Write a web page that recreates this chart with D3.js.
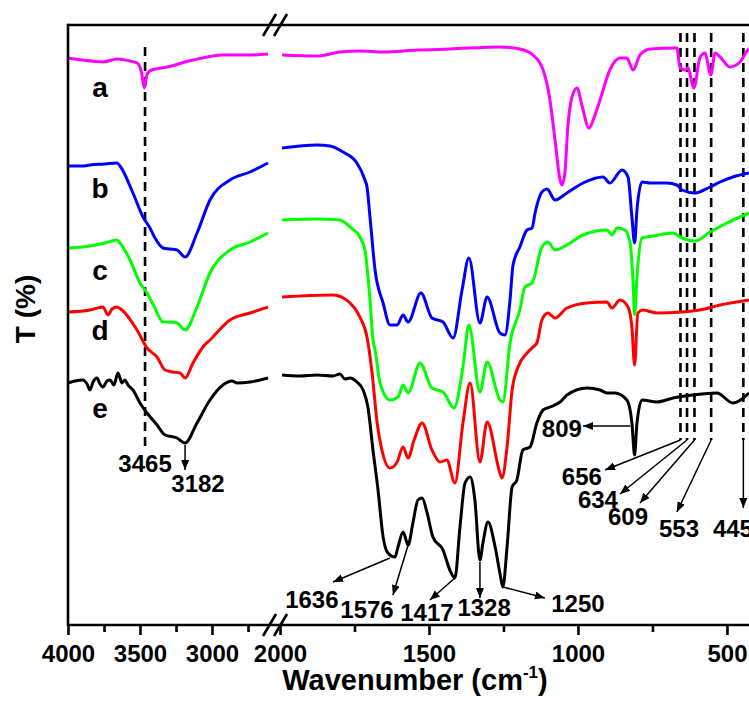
<!DOCTYPE html>
<html>
<head>
<meta charset="utf-8">
<script src="https://cdn.jsdelivr.net/npm/d3@7"></script>
<style>
body{margin:0;background:#fff}
svg text{font-family:"Liberation Sans",Arial,sans-serif;font-weight:bold;fill:#000}
</style>
</head>
<body>
<script>
// FTIR spectra, [wavenumber, T] pairs; High = 4000-2600 part, Low = 2000-426 part
const aHigh = [[4000,113.4],[3900,113.0],[3757,112.6],[3660,113.2],[3570,112.8],[3520,112.4],[3490,110.6],[3470,107.4],[3450,110.2],[3420,111.0],[3312,111.6],[3132,113.0],[2924,114.0],[2736,114.0],[2611,114.2]];
const aLow = [[1993,114.0],[1876,113.8],[1799,114.6],[1732,114.8],[1654,114.6],[1540,115.0],[1430,115.2],[1262,115.6],[1195,115.2],[1151,114.0],[1117,111.0],[1094,105.0],[1077,97.0],[1060,89.0],[1054,88.0],[1044,90.4],[1034,99.6],[1020,105.6],[1003,107.4],[987,104.0],[963,99.4],[943,102.0],[926,105.0],[893,111.0],[859,113.4],[836,113.4],[815,111.0],[792,114.0],[758,115.2],[674,115.4],[668,115.4],[658,111.6],[641,111.0],[631,111.4],[611,107.4],[591,113.4],[574,114.4],[554,110.0],[540,114.4],[523,113.6],[490,111.6],[456,112.6],[430,115.0],[426,115.2]];

const bHigh = [[4000,91.8],[3900,91.8],[3847,92.0],[3743,92.2],[3660,92.4],[3639,91.8],[3549,86.4],[3479,81.6],[3431,79.4],[3400,77.6],[3340,75.4],[3292,75.2],[3243,75.0],[3187,73.6],[3104,78.4],[3014,85.0],[2875,89.0],[2736,90.6],[2611,92.4]];
const bLow = [[1993,95.4],[1876,96.0],[1832,95.8],[1789,94.6],[1742,92.4],[1715,89.0],[1708,87.6],[1698,81.6],[1681,71.0],[1654,64.4],[1631,60.0],[1607,60.0],[1587,62.0],[1570,60.6],[1527,66.4],[1490,61.4],[1453,60.6],[1419,57.4],[1389,67.0],[1366,73.4],[1329,60.4],[1305,65.6],[1262,58.4],[1245,58.0],[1228,65.0],[1218,72.0],[1195,75.6],[1171,79.0],[1154,79.4],[1144,82.4],[1121,86.6],[1104,87.2],[1077,85.0],[1037,86.4],[983,88.4],[916,89.6],[893,88.4],[852,91.0],[832,89.6],[819,81.6],[810,76.4],[802,83.0],[785,88.6],[758,88.4],[701,88.4],[668,88.0],[651,87.0],[607,86.4],[557,87.6],[523,88.6],[480,89.6],[426,90.4]];

const cHigh = [[4000,75.4],[3900,75.6],[3847,75.8],[3743,76.4],[3660,77.0],[3639,76.4],[3569,73.0],[3500,68.4],[3451,66.4],[3400,63.6],[3340,60.6],[3292,60.6],[3243,60.4],[3187,59.0],[3104,63.6],[3014,70.4],[2875,75.0],[2736,76.6],[2611,78.4]];
const cLow = [[1993,81.0],[1876,81.2],[1799,81.0],[1765,79.6],[1732,77.6],[1715,75.0],[1698,65.0],[1688,57.0],[1681,55.0],[1664,48.4],[1631,45.0],[1604,45.6],[1587,48.0],[1570,46.4],[1530,52.4],[1490,47.4],[1453,46.6],[1416,43.4],[1386,51.6],[1366,60.0],[1329,46.6],[1305,52.6],[1262,45.0],[1252,44.6],[1228,56.4],[1195,63.0],[1178,67.6],[1154,68.4],[1121,75.6],[1101,76.6],[1077,75.0],[1037,76.0],[983,78.0],[903,79.0],[886,78.0],[869,79.4],[842,79.0],[825,76.4],[815,68.4],[810,62.0],[802,69.6],[785,77.4],[748,77.8],[681,78.4],[651,77.4],[607,76.8],[557,78.6],[500,80.4],[426,82.4]];

const dHigh = [[4000,62.6],[3847,63.0],[3757,63.6],[3722,62.0],[3694,63.2],[3660,63.6],[3625,63.0],[3521,59.0],[3451,55.4],[3382,53.6],[3326,51.0],[3271,50.6],[3222,50.4],[3187,49.4],[3132,52.4],[3063,55.6],[3014,57.0],[2875,61.0],[2736,62.4],[2611,63.6]];
const dLow = [[1993,65.6],[1822,66.0],[1765,64.4],[1732,61.6],[1708,57.6],[1691,50.4],[1674,40.4],[1658,35.0],[1631,31.4],[1607,32.6],[1587,35.6],[1570,33.4],[1550,37.0],[1523,40.4],[1490,35.0],[1463,32.6],[1440,33.0],[1413,28.4],[1386,40.4],[1362,48.4],[1329,32.6],[1305,40.6],[1262,30.4],[1255,29.4],[1238,35.6],[1221,47.0],[1201,51.6],[1171,54.4],[1151,55.6],[1138,56.4],[1121,61.0],[1101,62.4],[1077,61.4],[1037,63.4],[970,64.4],[903,64.6],[886,63.4],[859,65.0],[832,63.6],[819,59.6],[810,52.0],[799,62.4],[782,63.0],[735,62.4],[651,62.6],[591,63.0],[523,64.0],[426,65.0]];

const eHigh = [[4000,48.4],[3951,48.8],[3896,49.0],[3868,48.2],[3847,47.0],[3826,48.6],[3799,49.4],[3778,48.2],[3757,47.6],[3729,48.8],[3708,49.0],[3681,48.0],[3653,50.4],[3625,48.4],[3604,49.0],[3583,48.0],[3549,47.0],[3500,44.4],[3451,42.4],[3382,40.0],[3326,38.0],[3243,37.4],[3187,36.4],[3104,40.4],[3014,45.0],[2924,48.0],[2861,48.8],[2826,48.4],[2736,48.6],[2611,49.4]];
const eLow = [[1993,50.0],[1933,49.8],[1876,50.0],[1822,49.8],[1799,50.2],[1782,49.2],[1765,49.4],[1742,48.6],[1721,47.0],[1705,43.6],[1688,35.0],[1671,27.0],[1654,17.6],[1638,14.4],[1614,13.6],[1604,15.6],[1587,18.6],[1570,16.0],[1554,20.4],[1537,25.0],[1523,25.4],[1507,22.6],[1487,17.6],[1453,15.0],[1430,11.0],[1413,9.4],[1396,19.6],[1379,28.4],[1362,29.6],[1346,25.0],[1329,13.0],[1319,16.4],[1302,20.6],[1278,15.6],[1262,10.4],[1252,7.6],[1238,15.6],[1221,27.6],[1205,29.0],[1185,35.0],[1161,35.6],[1138,40.4],[1117,43.0],[1094,43.6],[1060,44.6],[1037,46.0],[970,47.4],[926,47.0],[903,46.4],[876,46.4],[836,45.0],[819,40.4],[810,34.0],[802,40.4],[785,45.0],[735,44.6],[681,45.4],[614,46.0],[534,46.4],[480,44.4],[426,46.4]];

const seriesNames = ["a","b","c","d","e"];
const seriesColors = ["#ff00ff","#0000ff","#00ff00","#ff0000","#000000"];
const seriesHigh = [aHigh,bHigh,cHigh,dHigh,eHigh];
const seriesLow = [aLow,bLow,cLow,dLow,eLow];
const nameT = [105.6,85.4,69.0,57.0,41.4];   // where the letters sit
const nameWn = 3778;

const majorHigh = [4000,3500,3000], minorHigh = [3750,3250,2750];
const majorLow = [2000,1500,1000,500], minorLow = [1750,1250,750];

// dashed guide lines: [wavenumber, T top, T bottom]
const guides = [[3465,115.6,34.6],[656,118.4,37],[634,118.4,37],[609,118.4,37],[553,118.4,37],[445,118.4,37]];
// arrows: [from wn, from T, to wn, to T]
const arrows = [[3187,36,3187,31],[1631,13.4,1822,8.6],[1570,16,1621,6],[1413,9.4,1497,5],[1329,12.6,1329,5.4],[1252,7.6,1111,5.4],[825,39.8,983,39.8],[656,37,909,31],[634,37,859,26.2],[609,37,792,24.4],[553,37,668,22.6],[445,37,445,23.4]];
// peak labels: [text, wn, T of baseline]
const peakLabels = [["3465",3465,30.6],["3182",3097,26.6],["1636",1893,3.4],["1576",1708,1.4],["1417",1507,0.8],["1328",1315,1.8],["1250",1000,2.6],["809",1054,37.6],["656",987,28],["634",933,23.4],["609",832,20],["553",661,17.6],["445",480,17.6]];

const width = 749, height = 702,
    plotLeft = 68, plotTop = 25, plotBottom = 625;

const xHigh = d3.scaleLinear().domain([4000,2600]).range([plotLeft,269.6]),
    xLow = d3.scaleLinear().domain([2000,426]).range([280,749]),
    y = d3.scaleLinear().domain([0,120]).range([plotBottom,plotTop]);
const xw = w => w > 2300 ? xHigh(w) : xLow(w);

const svg = d3.select("body").append("svg").attr("width",width).attr("height",height);

svg.append("defs").append("marker")
    .attr("id","arr").attr("markerUnits","userSpaceOnUse")
    .attr("markerWidth",11).attr("markerHeight",9)
    .attr("refX",10).attr("refY",4).attr("orient","auto")
  .append("path").attr("d","M0,0L10,4L0,8Z").attr("fill","#000");

// guides under curves
svg.append("g").selectAll("line").data(guides).join("line")
    .attr("x1",d => xw(d[0])).attr("x2",d => xw(d[0]))
    .attr("y1",d => y(d[1])).attr("y2",d => y(d[2]))
    .attr("stroke","#000").attr("stroke-width",2.6).attr("stroke-dasharray","9,6");

const line = d3.line().x(d => xw(d[0])).y(d => y(d[1])).curve(d3.curveMonotoneX);

seriesNames.forEach((n,i) => {
    [seriesHigh[i], seriesLow[i]].forEach(seg => {
        svg.append("path").attr("d",line(seg))
            .attr("fill","none").attr("stroke",seriesColors[i])
            .attr("stroke-width",3).attr("stroke-linejoin","round");
    });
    svg.append("text").attr("x",xHigh(nameWn)).attr("y",y(nameT[i]))
        .attr("text-anchor","middle").attr("font-size",28).text(n);
});

// frame
const frame = svg.append("g").attr("stroke","#000").attr("stroke-width",2.6);
frame.append("line").attr("x1",plotLeft).attr("x2",width).attr("y1",plotTop).attr("y2",plotTop);
frame.append("line").attr("x1",plotLeft).attr("x2",width).attr("y1",plotBottom).attr("y2",plotBottom);
frame.append("line").attr("x1",plotLeft).attr("x2",plotLeft).attr("y1",plotTop-1.3).attr("y2",plotBottom+1.3);

function ticks(scale, vals, size, labels){
    const ax = d3.axisBottom(scale).tickValues(vals).tickSize(size).tickSizeOuter(0).tickPadding(10)
        .tickFormat(labels ? d3.format("d") : "");
    const g = svg.append("g").attr("transform","translate(0,"+plotBottom+")").call(ax);
    g.select(".domain").remove();
    g.selectAll("line").attr("stroke-width",2.6);
    g.selectAll("text").attr("font-size",24).attr("font-family",null);
}
ticks(xHigh, majorHigh, 10, true);
ticks(xHigh, minorHigh, 7, false);
ticks(xLow, majorLow, 10, true);
ticks(xLow, minorLow, 7, false);

// axis break marks
[plotTop, plotBottom].forEach(yy => {
    [0, 11].forEach(dx => {
        svg.append("line")
            .attr("x1",263+dx).attr("y1",yy+11).attr("x2",276+dx).attr("y2",yy-11)
            .attr("stroke","#000").attr("stroke-width",2.6);
    });
});

// arrows and peak labels
svg.append("g").selectAll("line").data(arrows).join("line")
    .attr("x1",d => xw(d[0])).attr("y1",d => y(d[1]))
    .attr("x2",d => xw(d[2])).attr("y2",d => y(d[3]))
    .attr("stroke","#000").attr("stroke-width",1.5).attr("marker-end","url(#arr)");

svg.append("g").selectAll("text").data(peakLabels).join("text")
    .attr("x",d => xw(d[1])).attr("y",d => y(d[2]))
    .attr("text-anchor","middle").attr("font-size",24).text(d => d[0]);

// axis titles
const xt = svg.append("text").attr("x",415).attr("y",690)
    .attr("text-anchor","middle").attr("font-size",29);
xt.append("tspan").text("Wavenumber (cm");
xt.append("tspan").attr("font-size",17).attr("dy",-12).text("-1");
xt.append("tspan").attr("dy",12).text(")");

svg.append("text").attr("transform","translate(35,309) rotate(-90)")
    .attr("text-anchor","middle").attr("font-size",28).text("T (%)");
</script>
</body>
</html>
